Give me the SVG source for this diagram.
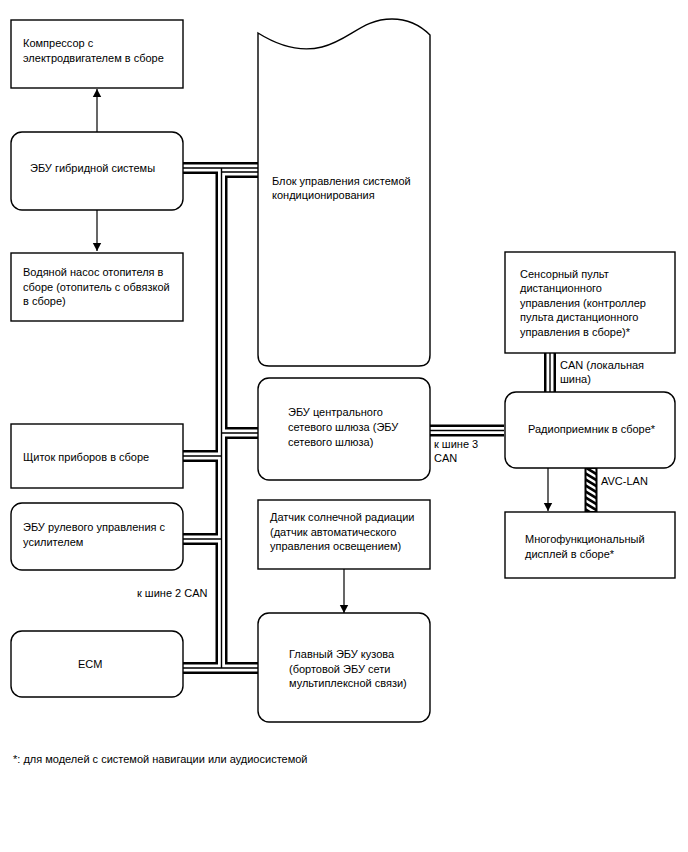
<svg xmlns="http://www.w3.org/2000/svg" width="688" height="852" viewBox="0 0 688 852">
<style>
text{font-family:"Liberation Sans",Arial,sans-serif;font-size:11px;fill:#000}
.box{fill:#fff;stroke:#000;stroke-width:1.4}
.bo{fill:none;stroke:#000;stroke-width:12}
.bw{fill:none;stroke:#fff;stroke-width:7}
.bc{fill:none;stroke:#000;stroke-width:1.4}
.arr{fill:none;stroke:#000;stroke-width:1.2;marker-end:url(#ah)}
</style>
<defs>
<marker id="ah" markerWidth="8" markerHeight="10" refX="8" refY="5" orient="auto" markerUnits="userSpaceOnUse" viewBox="0 0 8 10">
<path d="M0,0.8 L8,5 L0,9.2 Z" fill="#000"/>
</marker>
<pattern id="hatch" patternUnits="userSpaceOnUse" width="11" height="6" x="585" y="468">
<rect width="11" height="6" fill="#fff"/>
<path d="M-1,-1.5 L12,6.5 M-1,-7.5 L12,0.5 M-1,4.5 L12,12.5" stroke="#000" stroke-width="2.6"/>
</pattern>
</defs>
<g id="connectors">
<g id="bus-outer">
<path class="bo" d="M182,168 H258 M221,172 H258 M221.5,168 V668 M182,456 H221.5 M221.5,433 H258 M182,539 H221.5 M182,668 H258 M430,430.5 H504 M550,353 V392"/>
</g>
<g id="bus-white">
<path class="bw" d="M182,168 H258 M221,172 H258 M221.5,168 V668 M182,456 H221.5 M221.5,433 H258 M182,539 H221.5 M182,668 H258 M430,430.5 H504 M550,353 V392"/>
</g>
<g id="bus-center">
<path class="bc" d="M182,168 H258 M221,172 H258 M221.5,168 V668 M182,456 H221.5 M221.5,433 H258 M182,539 H221.5 M182,668 H258 M430,430.5 H504 M550,353 V392"/>
</g>
<rect id="avc-lan" x="585.5" y="468" width="11" height="44" fill="url(#hatch)" stroke="#000" stroke-width="2"/>
<path class="arr" d="M97,132 V89"/>
<path class="arr" d="M97,210 V251"/>
<path class="arr" d="M344,569 V613"/>
<path class="arr" d="M548,468 V511"/>
</g>
<g id="compressor">
<rect class="box" x="11" y="20" width="172" height="68"/>
<text x="23" y="47">Компрессор с</text>
<text x="23" y="62">электродвигателем в сборе</text>
</g>
<g id="hybrid-ecu">
<rect class="box" x="11" y="132" width="172" height="78" rx="11"/>
<text x="30" y="172">ЭБУ гибридной системы</text>
</g>
<g id="water-pump">
<rect class="box" x="11" y="253" width="172" height="68"/>
<text x="23" y="276">Водяной насос отопителя в</text>
<text x="23" y="291">сборе (отопитель с обвязкой</text>
<text x="23" y="305">в сборе)</text>
</g>
<g id="instrument-panel">
<rect class="box" x="11" y="424" width="172" height="64"/>
<text x="23" y="461">Щиток приборов в сборе</text>
</g>
<g id="ps-ecu">
<rect class="box" x="11" y="503" width="172" height="67" rx="11"/>
<text x="23" y="531">ЭБУ рулевого управления с</text>
<text x="23" y="546">усилителем</text>
</g>
<g id="ecm">
<rect class="box" x="11" y="631" width="172" height="66" rx="11"/>
<text x="78" y="668">ECM</text>
</g>
<text x="137" y="597">к шине 2 CAN</text>
<g id="ac-block">
<path class="box" d="M258,33 C282,48 302,52 322,47 C350,40 362,19 392,19 C410,19 422,27 430,35 V355 Q430,366 419,366 H269 Q258,366 258,355 Z"/>
<text x="272" y="185">Блок управления системой</text>
<text x="272" y="199">кондиционирования</text>
</g>
<g id="gateway-ecu">
<rect class="box" x="258" y="378" width="172" height="102" rx="11"/>
<text x="288" y="416">ЭБУ центрального</text>
<text x="288" y="431">сетевого шлюза (ЭБУ</text>
<text x="288" y="446">сетевого шлюза)</text>
</g>
<text x="434" y="448">к шине 3</text>
<text x="434" y="462">CAN</text>
<g id="solar-sensor">
<rect class="box" x="258" y="500" width="172" height="69"/>
<text x="270" y="521">Датчик солнечной радиации</text>
<text x="270" y="536">(датчик автоматического</text>
<text x="270" y="550">управления освещением)</text>
</g>
<g id="body-ecu">
<rect class="box" x="258" y="613" width="172" height="109" rx="11"/>
<text x="289" y="658">Главный ЭБУ кузова</text>
<text x="289" y="673">(бортовой ЭБУ сети</text>
<text x="289" y="687">мультиплексной связи)</text>
</g>
<g id="touch-remote">
<rect class="box" x="505" y="252" width="170" height="101"/>
<text x="520" y="278">Сенсорный пульт</text>
<text x="520" y="292">дистанционного</text>
<text x="520" y="307">управления (контроллер</text>
<text x="520" y="321">пульта дистанционного</text>
<text x="520" y="336">управления в сборе)*</text>
</g>
<text x="560" y="369">CAN (локальная</text>
<text x="560" y="383">шина)</text>
<g id="radio">
<rect class="box" x="505" y="392" width="170" height="76" rx="11"/>
<text x="528" y="433">Радиоприемник в сборе*</text>
</g>
<text x="601" y="485">AVC-LAN</text>
<g id="display">
<rect class="box" x="505" y="512" width="170" height="66"/>
<text x="525" y="543">Многофункциональный</text>
<text x="525" y="558">дисплей в сборе*</text>
</g>
<text x="13" y="763">*: для моделей с системой навигации или аудиосистемой</text>
</svg>
